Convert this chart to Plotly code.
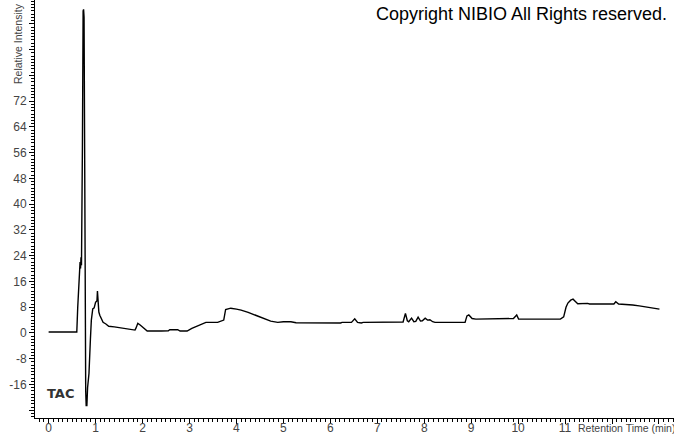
import plotly.graph_objects as go

# Retention time (min) and relative intensity
time_min = [
    0.00, 0.60, 0.62, 0.64, 0.66, 0.67, 0.68, 0.69, 0.70, 0.71, 0.72, 0.735, 0.745,
    0.755, 0.765, 0.775, 0.79, 0.80, 0.815, 0.83, 0.86, 0.89, 0.91, 0.94, 0.97,
    1.00, 1.03, 1.04, 1.05, 1.07, 1.09, 1.12, 1.16, 1.22, 1.28, 1.40, 1.55, 1.70,
    1.84, 1.86, 1.90, 1.95, 2.02, 2.10, 2.40, 2.55, 2.58, 2.75, 2.80, 2.95, 3.05,
    3.15, 3.25, 3.35, 3.60, 3.68, 3.73, 3.77, 3.88, 4.00, 4.10, 4.25, 4.35, 4.52,
    4.62, 4.73, 4.88, 5.00, 5.16, 5.27, 6.22, 6.25, 6.45, 6.52, 6.58, 6.66, 6.70,
    7.55, 7.60, 7.64, 7.67, 7.73, 7.78, 7.82, 7.87, 7.92, 7.96, 8.02, 8.07, 8.12,
    8.18, 8.23, 8.87, 8.91, 8.95, 9.02, 9.10, 9.50, 9.60, 9.75, 9.90, 9.97, 10.01,
    10.90, 10.97, 11.02, 11.06, 11.12, 11.17, 11.22, 11.27, 11.48, 11.52, 12.04,
    12.08, 12.14, 12.30, 12.44, 12.58, 12.80, 13.01,
]
intensity = [
    0.3, 0.3, 8.0, 15.0, 19.5, 22.0, 20.0, 23.5, 21.0, 32.0, 58.0, 100.0, 100.5,
    98.0, 58.0, 10.0, -18.0, -22.5, -22.5, -17.0, -12.5, -2.0, 4.0, 7.5, 7.8,
    9.5, 10.0, 13.0, 9.5, 6.5, 5.5, 4.5, 3.3, 2.8, 2.1, 1.9, 1.6, 1.3,
    0.9, 1.5, 3.0, 2.5, 1.6, 0.6, 0.6, 0.7, 1.0, 1.0, 0.6, 0.6, 1.4,
    2.0, 2.8, 3.3, 3.3, 3.8, 4.0, 7.3, 7.7, 7.4, 7.1, 6.4, 5.8, 4.9,
    4.2, 3.7, 3.3, 3.5, 3.5, 3.2, 3.1, 3.3, 3.3, 4.4, 3.3, 3.1, 3.3,
    3.4, 6.1, 3.8, 3.5, 4.6, 3.5, 3.6, 4.9, 3.7, 3.8, 4.6, 4.0, 4.1,
    3.5, 3.3, 3.3, 5.3, 5.6, 4.5, 4.3, 4.3, 4.5, 4.4, 4.5, 5.6, 4.3,
    4.3, 5.0, 8.0, 9.3, 10.2, 10.5, 9.8, 9.1, 9.2, 9.0, 9.0,
    9.7, 9.0, 8.9, 8.7, 8.4, 8.0, 7.4,
]

x_tick_vals = list(range(0, 14))
x_tick_text = [str(v) for v in range(0, 12)] + ["", ""]
y_tick_vals = list(range(-24, 97, 8))
y_tick_text = ["" if (v < -16 or v > 72) else str(v) for v in y_tick_vals]

W, H = 674, 434
ML, MR, MT, MB = 35, 0, 0, 16
PW, PH = W - ML - MR, H - MT - MB

def px(xp):
    return (xp - ML) / PW

def py(yp):
    return 1 - (yp - MT) / PH

tick_font = dict(family="Arial, Liberation Sans, sans-serif", size=12, color="#444444")

fig = go.Figure()
fig.add_trace(go.Scatter(
    x=time_min, y=intensity, mode="lines",
    line=dict(color="black", width=1.4),
    hoverinfo="skip", showlegend=False, cliponaxis=False,
))

fig.update_layout(
    width=W, height=H,
    margin=dict(l=ML, r=MR, t=MT, b=MB, pad=0, autoexpand=False),
    paper_bgcolor="white", plot_bgcolor="white",
    xaxis=dict(
        range=[-0.29, 13.32], showgrid=False, zeroline=False, automargin=False,
        showline=True, linecolor="black", linewidth=1,
        tickmode="array", tickvals=x_tick_vals, ticktext=x_tick_text,
        ticks="outside", ticklen=5, tickcolor="black", tickfont=tick_font,
        ticklabelstandoff=-6,
        minor=dict(dtick=0.1, tick0=0, ticks="outside", ticklen=3, tickcolor="black"),
    ),
    yaxis=dict(
        range=[-26.4, 103.4], showgrid=False, zeroline=False, automargin=False,
        showline=True, linecolor="black", linewidth=1,
        tickmode="array", tickvals=y_tick_vals, ticktext=y_tick_text,
        ticks="outside", ticklen=5, tickcolor="black", tickfont=tick_font,
        minor=dict(dtick=1, tick0=0, ticks="outside", ticklen=3, tickcolor="black"),
    ),
    annotations=[
        dict(text="Copyright NIBIO All Rights reserved.", xref="paper", yref="paper",
             x=px(521), y=py(14), xanchor="center", yanchor="middle", showarrow=False,
             font=dict(family="Arial, Liberation Sans, sans-serif", size=18, color="black")),
        dict(text="<b>TAC</b>", xref="paper", yref="paper",
             x=px(60), y=py(393), xanchor="center", yanchor="middle", showarrow=False,
             font=dict(family="Verdana, DejaVu Sans, sans-serif", size=13, color="#333333")),
        dict(text="Retention Time (min)", xref="paper", yref="paper",
             x=px(576), y=py(428), xanchor="left", yanchor="middle", showarrow=False,
             font=dict(family="Arial, Liberation Sans, sans-serif", size=10.5, color="#444444")),
        dict(text="Relative Intensity", xref="paper", yref="paper", textangle=-90,
             x=px(18), y=py(44), xanchor="center", yanchor="middle", showarrow=False,
             font=dict(family="Arial, Liberation Sans, sans-serif", size=10.5, color="#444444")),
    ],
)

fig.write_html(
    "out.html",
    config={"displayModeBar": False},
    post_script="document.body.style.margin='0';document.body.style.padding='0';",
)
